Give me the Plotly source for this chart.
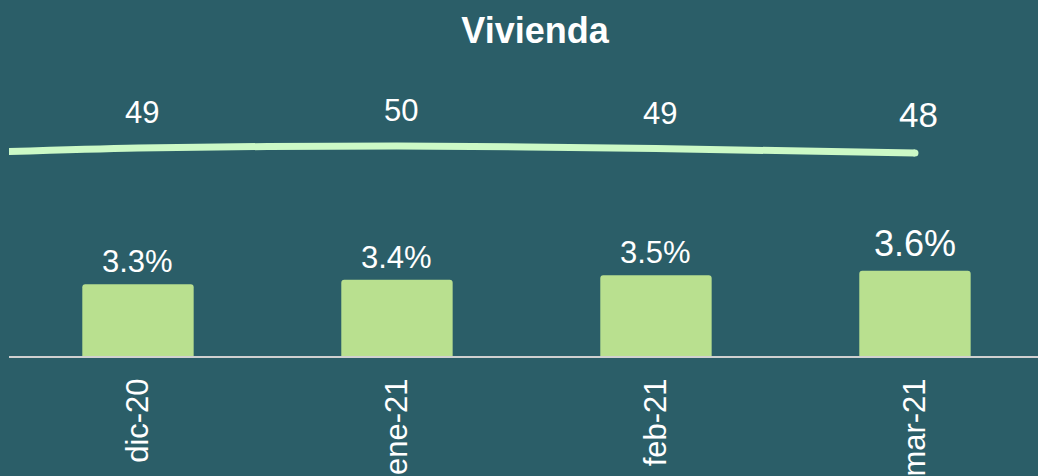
import plotly.graph_objects as go

# ---- data ----
months = ["dic-20", "ene-21", "feb-21", "mar-21"]
bar_values = [3.3, 3.4, 3.5, 3.6]            # %
bar_labels = ["3.3%", "3.4%", "3.5%", "3.6%"]
line_months = ["nov-20", "dic-20", "ene-21", "feb-21", "mar-21"]
line_values = [47.6, 49.2, 49.6, 49.1, 48.2]
line_labels = ["", "49", "50", "49", "48"]

BG = "#2B5E68"
BAR = "#B9E08F"
LINE = "#CCF9C6"
FONT = "Arial, Liberation Sans, sans-serif"

fig = go.Figure()
fig.add_trace(go.Bar(
    x=months, y=bar_values, marker=dict(color=BAR, line=dict(width=0)),
    width=0.43, showlegend=False, hoverinfo="skip",
))
fig.add_trace(go.Scatter(
    x=line_months, y=line_values, yaxis="y2", mode="lines",
    line=dict(color=LINE, width=7, shape="spline", smoothing=0.8),
    showlegend=False, hoverinfo="skip",
))
# round end cap on last point
fig.add_trace(go.Scatter(
    x=line_months[-1:], y=line_values[-1:], yaxis="y2", mode="markers",
    marker=dict(color=LINE, size=7), showlegend=False, hoverinfo="skip",
))

annotations = []
n = len(months)
for i, (m, v, t) in enumerate(zip(months, bar_values, bar_labels)):
    last = i == n - 1
    annotations.append(dict(
        x=m, y=v, xref="x", yref="y", text=t, showarrow=False,
        yanchor="bottom", yshift=3 if not last else 5,
        font=dict(family=FONT, size=36 if last else 31, color="white"),
    ))
for i, (m, v, t) in enumerate(zip(line_months, line_values, line_labels)):
    if not t:
        continue
    last = i == len(line_months) - 1
    annotations.append(dict(
        x=m, y=v, xref="x", yref="y2", text=t, showarrow=False,
        yanchor="bottom", yshift=16 if not last else 17, xshift=4,
        font=dict(family=FONT, size=35 if last else 31, color="white"),
    ))

fig.update_layout(
    width=1038, height=476,
    paper_bgcolor=BG, plot_bgcolor=BG,
    margin=dict(l=9, r=0, t=60, b=120, autoexpand=False),
    barcornerradius=3,
    title=dict(text="<b>Vivienda</b>", x=535 / 1038, xanchor="center", xref="container",
               y=1 - 30 / 476, yanchor="middle", yref="container",
               font=dict(family=FONT, size=36, color="white")),
    xaxis=dict(type="category", categoryorder="array", categoryarray=line_months,
               range=[0.502, 4.475], showgrid=False, zeroline=False,
               showline=True, linecolor="#D0D0D0", linewidth=2,
               tickangle=-90, ticks="", ticklabelstandoff=8,
               tickfont=dict(family=FONT, size=31, color="white"),
               automargin=False),
    yaxis=dict(range=[1.717, 8.25], visible=False, showgrid=False, zeroline=False),
    yaxis2=dict(range=[7.6, 66.8], overlaying="y", visible=False,
                showgrid=False, zeroline=False),
    annotations=annotations,
)

fig.write_html(
    "out.html",
    config={"displayModeBar": False},
    post_script="document.body.style.margin='0';document.body.style.overflow='hidden';",
)
